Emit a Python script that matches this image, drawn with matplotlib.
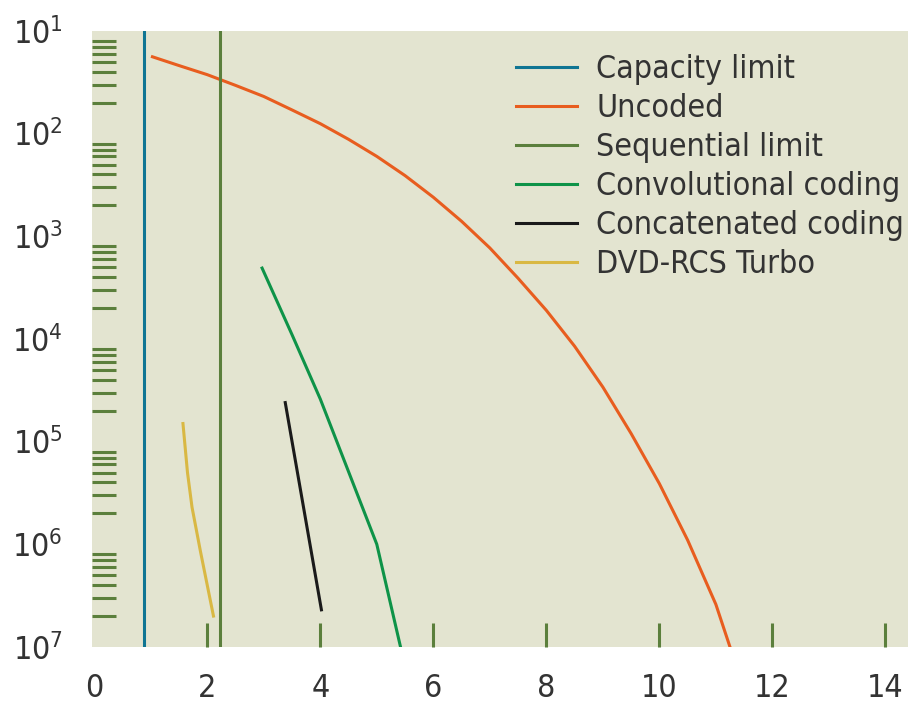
import matplotlib.pyplot as plt
import numpy as np
from matplotlib.ticker import LogLocator, FixedLocator, FuncFormatter, NullFormatter

plt.rcParams['font.family'] = ['DejaVu Sans']
plt.rcParams['font.stretch'] = 'condensed'
plt.rcParams['mathtext.fontset'] = 'custom'
plt.rcParams['mathtext.rm'] = 'DejaVu Sans:stretch=condensed'

# Eb/N0 (dB) vs bit error rate
capacity_limit = 0.88
sequential_limit = 2.23

uncoded_x = [1.03, 1.5, 2.0, 2.5, 3.0, 3.5, 4.0, 4.5, 5.0, 5.5, 6.0, 6.5, 7.0,
             7.5, 8.0, 8.5, 9.0, 9.5, 10.0, 10.5, 11.0, 11.25]
uncoded_y = [5.6e-2, 4.6e-2, 3.75e-2, 2.95e-2, 2.3e-2, 1.7e-2, 1.25e-2, 8.8e-3,
             6.0e-3, 3.9e-3, 2.4e-3, 1.4e-3, 7.7e-4, 3.9e-4, 1.9e-4, 8.5e-5,
             3.4e-5, 1.2e-5, 3.9e-6, 1.1e-6, 2.6e-7, 1.0e-7]

conv_x = [2.97, 3.5, 4.0, 4.5, 5.0, 5.42]
conv_y = [4.9e-4, 1.1e-4, 2.6e-5, 5.1e-6, 1.0e-6, 1.0e-7]

concat_x = [3.38, 4.02]
concat_y = [2.4e-5, 2.3e-7]

turbo_x = [1.57, 1.65, 1.73, 1.88, 2.11]
turbo_y = [1.5e-5, 5.0e-6, 2.3e-6, 8.5e-7, 2.0e-7]

bg = '#e3e4d0'
tick_green = '#5b7f3c'
text_col = '#333333'

fig = plt.figure(figsize=(9.08, 7.03), dpi=100)
ax = fig.add_axes([0.1013, 0.0797, 0.8987, 0.8763])
ax.set_facecolor(bg)

lw = 2.2
ax.axvline(capacity_limit, color='#0f7593', lw=lw, label='Capacity limit')
ax.plot(uncoded_x, uncoded_y, color='#e85d1f', lw=lw, label='Uncoded')
ax.axvline(sequential_limit, color='#5b7f3c', lw=lw, label='Sequential limit')
ax.plot(conv_x, conv_y, color='#0e9348', lw=lw, label='Convolutional coding')
ax.plot(concat_x, concat_y, color='#1a1a1a', lw=lw, label='Concatenated coding')
ax.plot(turbo_x, turbo_y, color='#d9b843', lw=lw, label='DVD-RCS Turbo')

ax.set_yscale('log')
ax.set_ylim(1e-7, 1e-1)
ax.set_xlim(-0.04, 14.4)

for s in ax.spines.values():
    s.set_visible(False)

# y: labels at decades (shown without minus sign), green minor ticks inside
ax.yaxis.set_major_locator(FixedLocator([10.0 ** -k for k in range(1, 8)]))
ax.yaxis.set_major_formatter(FuncFormatter(
    lambda v, p: r'$\mathregular{10^{%d}}$' % round(-np.log10(v))))
ax.yaxis.set_minor_locator(LogLocator(base=10, subs=np.arange(2, 9)))
ax.yaxis.set_minor_formatter(NullFormatter())
ax.tick_params(axis='y', which='major', length=0, pad=21,
               labelsize=23, labelcolor=text_col)
ax.tick_params(axis='y', which='minor', direction='in', length=17, width=2.2,
               color=tick_green)

# x: ticks every 2, drawn upward from the bottom
ax.set_xticks(np.arange(0, 15, 2))
ax.tick_params(axis='x', direction='in', length=17, width=2.2, color=tick_green,
               labelsize=23, labelcolor=text_col, pad=19)
ax.xaxis.get_major_ticks()[0].tick1line.set_visible(False)

leg = ax.legend(loc='upper left', bbox_to_anchor=(0.52, 0.962), frameon=False,
                fontsize=23, handlelength=1.9, handletextpad=0.6,
                labelspacing=0.25, borderpad=0, borderaxespad=0)
for t in leg.get_texts():
    t.set_color(text_col)

fig.savefig('out.png', dpi=100)
